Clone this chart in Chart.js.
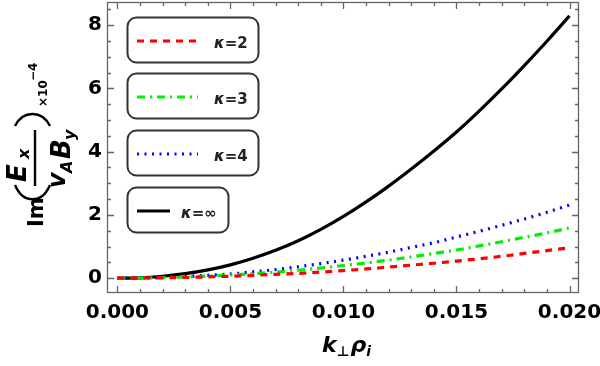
<!DOCTYPE html>
<html>
<head>
<meta charset="utf-8">
<script src="https://cdn.jsdelivr.net/npm/chart.js@4/dist/chart.umd.min.js"></script>
<style>
  body { margin: 0; background: #fff; }
  #wrap { width: 600px; height: 366px; }
</style>
</head>
<body>
<div id="wrap"><canvas id="chart" width="600" height="366"></canvas></div>
<script>
// k_perp * rho_i
const kValues = [0.000, 0.001, 0.002, 0.003, 0.004, 0.005, 0.006, 0.007, 0.008, 0.009, 0.010,
    0.011, 0.012, 0.013, 0.014, 0.015, 0.016, 0.017, 0.018, 0.019, 0.020];

// Im(Ex / vA By) in units of 1e-4
const kappa2 = [0, 0.002, 0.01, 0.02, 0.04, 0.06, 0.09, 0.12, 0.15, 0.19, 0.24,
    0.29, 0.35, 0.41, 0.47, 0.54, 0.61, 0.69, 0.78, 0.87, 0.96];
const kappa3 = [0, 0.004, 0.016, 0.036, 0.064, 0.10, 0.14, 0.19, 0.25, 0.32, 0.40,
    0.48, 0.57, 0.67, 0.78, 0.89, 1.02, 1.15, 1.29, 1.43, 1.59];
const kappa4 = [0, 0.006, 0.02, 0.05, 0.09, 0.13, 0.20, 0.27, 0.36, 0.46, 0.57,
    0.69, 0.82, 0.97, 1.12, 1.30, 1.48, 1.67, 1.87, 2.08, 2.31];
const kappaInf = [0, 0.01, 0.06, 0.14, 0.26, 0.42, 0.63, 0.88, 1.18, 1.54, 1.95,
    2.41, 2.91, 3.45, 4.02, 4.62, 5.28, 5.98, 6.72, 7.49, 8.29];

const seriesLabels = ["=2", "=3", "=4", "=\u221e"];
const xTicks = [0.000, 0.005, 0.010, 0.015, 0.020];
const yTicks = [0, 2, 4, 6, 8];

const FONT = '"DejaVu Sans", sans-serif';

function points(values) {
    return kValues.map((k, i) => ({ x: k, y: values[i] }));
}

const styles = [
    { color: "#ff0000", dash: [7, 6] },
    { color: "#00ee00", dash: [8, 5, 2, 5] },
    { color: "#0000ff", dash: [2, 5.5] },
    { color: "#000000", dash: [] }
];

const allSeries = [kappa2, kappa3, kappa4, kappaInf];

const datasets = allSeries.map((values, i) => ({
    label: "\u03ba" + seriesLabels[i],
    data: points(values),
    borderColor: styles[i].color,
    borderDash: styles[i].dash,
    borderWidth: 3.2,
    pointRadius: 0,
    fill: false,
    cubicInterpolationMode: "monotone"
}));

// frame with inside ticks, Mathematica style
const framePlugin = {
    id: "frame",
    afterDatasetsDraw(chart) {
        const ctx = chart.ctx;
        const a = chart.chartArea;
        const xs = chart.scales.x;
        const ys = chart.scales.y;
        ctx.save();
        ctx.strokeStyle = "#666";
        ctx.lineWidth = 1.3;
        ctx.strokeRect(a.left + 0.5, a.top + 0.5, a.right - a.left - 1, a.bottom - a.top - 1);

        ctx.beginPath();
        for (let i = 0; i <= 20; i++) {
            const v = i * 0.001;
            const px = Math.round(xs.getPixelForValue(v)) + 0.5;
            const len = i % 5 === 0 ? 7 : 4;
            ctx.moveTo(px, a.bottom);
            ctx.lineTo(px, a.bottom - len);
            ctx.moveTo(px, a.top);
            ctx.lineTo(px, a.top + len);
        }
        for (let i = 0; i <= 17; i++) {
            const v = i * 0.5;
            const py = Math.round(ys.getPixelForValue(v)) + 0.5;
            const len = i % 4 === 0 ? 7 : 4;
            ctx.moveTo(a.left, py);
            ctx.lineTo(a.left + len, py);
            ctx.moveTo(a.right, py);
            ctx.lineTo(a.right - len, py);
        }
        ctx.stroke();
        ctx.restore();
    },
    afterDraw(chart) {
        const ctx = chart.ctx;
        drawLegend(ctx);
        drawXTitle(ctx);
        drawYTitle(ctx);
    }
};

function drawLegend(ctx) {
    const boxTops = [17, 73, 130, 187];
    const boxWidths = [131, 131, 131, 101];
    const lineEnds = [198, 198, 198, 170];
    const textStarts = [214, 214, 214, 181];
    ctx.save();
    for (let i = 0; i < 4; i++) {
        const top = boxTops[i];
        ctx.beginPath();
        ctx.roundRect(127.5, top + 0.5, boxWidths[i], 45, 9);
        ctx.fillStyle = "#fff";
        ctx.fill();
        ctx.lineWidth = 2;
        ctx.strokeStyle = "#333";
        ctx.stroke();

        const cy = top + 24;
        ctx.beginPath();
        ctx.setLineDash(styles[i].dash);
        ctx.lineWidth = 3.2;
        ctx.strokeStyle = styles[i].color;
        ctx.moveTo(137, cy);
        ctx.lineTo(lineEnds[i], cy);
        ctx.stroke();
        ctx.setLineDash([]);

        ctx.fillStyle = "#222";
        ctx.textBaseline = "alphabetic";
        ctx.textAlign = "left";
        ctx.font = "italic bold 15px " + FONT;
        const base = top + 31;
        ctx.fillText("\u03ba", textStarts[i], base);
        const w = ctx.measureText("\u03ba").width;
        ctx.font = "bold 15px " + FONT;
        ctx.fillText(seriesLabels[i], textStarts[i] + w, base);
    }
    ctx.restore();
}

function drawXTitle(ctx) {
    ctx.save();
    ctx.fillStyle = "#000";
    ctx.textBaseline = "alphabetic";
    ctx.textAlign = "left";
    let x = 322;
    const base = 352;
    ctx.font = "italic bold 22px " + FONT;
    ctx.fillText("k", x, base);
    x += ctx.measureText("k").width;
    ctx.font = "bold 14px " + FONT;
    ctx.fillText("\u22a5", x, base + 4);
    x += ctx.measureText("\u22a5").width + 1;
    ctx.font = "italic bold 22px " + FONT;
    ctx.fillText("\u03c1", x, base);
    x += ctx.measureText("\u03c1").width;
    ctx.font = "italic bold 14px " + FONT;
    ctx.fillText("i", x, base + 4);
    ctx.restore();
}

function drawYTitle(ctx) {
    // local u runs up the page, v runs to the right
    ctx.save();
    ctx.translate(35, 155);
    ctx.rotate(-Math.PI / 2);
    ctx.fillStyle = "#000";
    ctx.strokeStyle = "#000";
    ctx.textBaseline = "alphabetic";
    ctx.textAlign = "left";

    ctx.font = "bold 21px " + FONT;
    ctx.fillText("Im", -72, 8);

    ctx.lineWidth = 2.4;
    ctx.beginPath();
    ctx.moveTo(-30, -20);
    ctx.bezierCurveTo(-49, -12, -49, 7, -30, 15);
    ctx.stroke();
    ctx.beginPath();
    ctx.moveTo(29, -20);
    ctx.bezierCurveTo(45, -12, 45, 7, 29, 15);
    ctx.stroke();

    ctx.beginPath();
    ctx.moveTo(-31, 0);
    ctx.lineTo(25, 0);
    ctx.stroke();

    ctx.font = "italic bold 26px " + FONT;
    ctx.fillText("E", -27, -9);
    ctx.font = "italic bold 16px " + FONT;
    ctx.fillText("x", -4, -6);

    ctx.font = "italic bold 24px " + FONT;
    ctx.fillText("v", -33, 30);
    ctx.font = "italic bold 16px " + FONT;
    ctx.fillText("A", -18, 37);
    ctx.font = "italic bold 26px " + FONT;
    ctx.fillText("B", -4, 35);
    ctx.font = "italic bold 16px " + FONT;
    ctx.fillText("y", 15, 40);

    ctx.font = "bold 12px " + FONT;
    ctx.fillText("\u00d710", 48, 12);
    ctx.fillText("\u22124", 74, 2);
    ctx.restore();
}

new Chart(document.getElementById("chart"), {
    type: "line",
    data: { datasets: datasets },
    options: {
        responsive: false,
        animation: false,
        devicePixelRatio: 1,
        layout: { padding: { top: 2, right: 21, left: 0, bottom: 0 } },
        plugins: {
            legend: { display: false },
            tooltip: { enabled: false }
        },
        scales: {
            x: {
                type: "linear",
                min: -0.00046,
                max: 0.02042,
                grid: { display: false, drawTicks: false },
                border: { display: false },
                afterBuildTicks: (scale) => { scale.ticks = xTicks.map((v) => ({ value: v })); },
                afterFit: (scale) => {
                    scale.height = 73;
                    scale.paddingLeft = 0;
                    scale.paddingRight = 0;
                },
                ticks: {
                    color: "#000",
                    padding: 8,
                    maxRotation: 0,
                    font: { family: FONT, size: 20, weight: "bold" },
                    callback: (v) => v.toFixed(3)
                }
            },
            y: {
                type: "linear",
                min: -0.47,
                max: 8.73,
                grid: { display: false, drawTicks: false },
                border: { display: false },
                afterBuildTicks: (scale) => { scale.ticks = yTicks.map((v) => ({ value: v })); },
                afterFit: (scale) => {
                    scale.width = 107;
                    scale.paddingTop = 0;
                    scale.paddingBottom = 0;
                },
                ticks: {
                    color: "#000",
                    padding: 5,
                    font: { family: FONT, size: 20, weight: "bold" },
                    callback: (v) => String(v)
                }
            }
        }
    },
    plugins: [framePlugin]
});
</script>
</body>
</html>
